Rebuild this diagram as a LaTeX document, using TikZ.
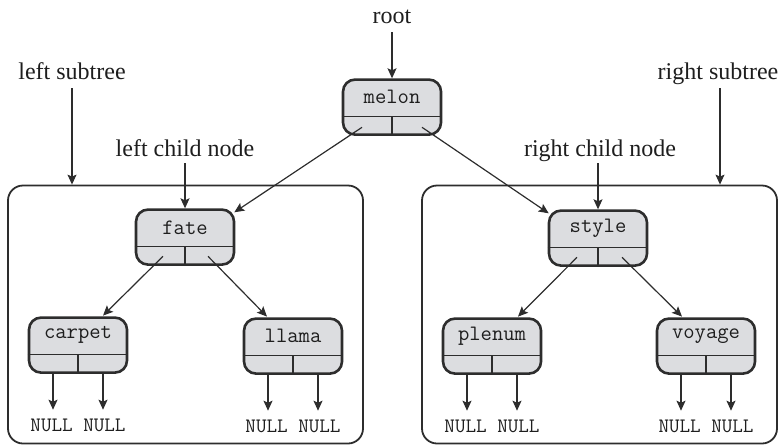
\documentclass[tikz,border=0pt]{standalone}
\usepackage{fontspec}
\setmainfont{Liberation Serif}
\usetikzlibrary{arrows.meta,calc}
\definecolor{boxgray}{RGB}{220,221,224}
\definecolor{edge}{RGB}{45,45,45}
\definecolor{ink}{RGB}{30,30,30}
\tikzset{
  tbox/.style={rectangle, rounded corners=12pt, minimum width=98pt, minimum height=55pt,
    fill=boxgray, draw=edge, line width=2.6pt, inner sep=0pt, anchor=north},
  divider/.style={draw=edge, line width=1.4pt},
  subbox/.style={rectangle, rounded corners=15pt, draw=edge, line width=1.8pt, inner sep=0pt},
  arr/.style={draw=edge, line width=1.2pt, -{Stealth[length=10pt,width=9pt,inset=2pt]}},
  monotext/.style={font=\fontsize{22}{24}\ttfamily, text=ink, inner sep=0pt},
  nulltext/.style={font=\fontsize{20.5}{22}\ttfamily, text=ink, inner sep=0pt, anchor=base, text height=10pt, text depth=0pt},
  lbl/.style={font=\fontsize{24}{28}\selectfont, text=ink, inner sep=0pt, anchor=base, text depth=0pt},
}
\newcommand{\treenode}[4]{%
  \node[tbox] (#1) at (#2,#3) {};
  \draw[divider] ([yshift=-38pt]#1.north west) -- ([yshift=-38pt]#1.north east);
  \draw[divider] ([yshift=-38pt]#1.north) -- (#1.south);
  \node[monotext] (#1-t) at ([yshift=-19pt]#1.north) {#4};
}
\newcommand{\nullpair}[1]{%
  \node[nulltext] (#1-null) at ($(#1.south)+(0,57.5)$) {NULL NULL};
  \draw[arr, shorten >=11.5pt] ([xshift=-25pt]#1.south) -- ([xshift=-25pt]#1.south |- #1-null.north);
  \draw[arr, shorten >=11.5pt] ([xshift=25pt]#1.south) -- ([xshift=25pt]#1.south |- #1-null.north);
}
\begin{document}
\begin{tikzpicture}[x=1pt,y=-1pt]
\useasboundingbox (0,0) rectangle (783,445);
% subtree boxes
\node[subbox, minimum width=355pt, minimum height=258pt] (lbox) at (185.5,314.5) {};
\node[subbox, minimum width=355pt, minimum height=258pt] (rbox) at (599.5,314.5) {};
% tree nodes
\treenode{melon}{392}{78.3}{melon}
\treenode{fate}{185}{208.3}{fate}
\treenode{style}{598}{209.3}{style}
\treenode{carpet}{78}{316.3}{carpet}
\treenode{llama}{293}{317.3}{llama}
\treenode{plenum}{492}{317.3}{plenum}
\treenode{voyage}{706}{317.3}{voyage}
% labels
\node[lbl] (root) at (392,23) {root};
\node[lbl] (lsub) at (72,79) {left subtree};
\node[lbl] (lcn) at (185,156) {left child node};
\node[lbl] (rsub) at (718,79) {right subtree};
\node[lbl] (rcn) at (600,156) {right child node};
\draw[arr] ([yshift=-9pt]root.south) -- (melon.north);
\draw[arr] ([yshift=-9pt]lsub.south) -- (lsub.south |- lbox.north);
\draw[arr] ([xshift=2pt,yshift=-9pt]rsub.south) -- ([xshift=2pt]rsub.south |- rbox.north);
\draw[arr] ([yshift=-7pt]lcn.south -| fate.north) -- (fate.north);
\draw[arr] ([yshift=-7pt]rcn.south -| style.north) -- (style.north);
% child connectors
\draw[arr] ([xshift=-30pt,yshift=-49pt]melon.north) -- ([xshift=-1pt,yshift=-4pt]fate.north east);
\draw[arr] ([xshift=30pt,yshift=-49pt]melon.north) -- ([xshift=1pt,yshift=-4pt]style.north west);
\draw[arr, shorten >=1pt] ([xshift=-22pt,yshift=-48pt]fate.north) -- ([xshift=-26pt]carpet.north east);
\draw[arr, shorten >=1pt] ([xshift=23pt,yshift=-48pt]fate.north) -- ([xshift=25pt]llama.north west);
\draw[arr, shorten >=1pt] ([xshift=-21pt,yshift=-48pt]style.north) -- ([xshift=-25pt]plenum.north east);
\draw[arr, shorten >=1pt] ([xshift=24pt,yshift=-48pt]style.north) -- ([xshift=27pt]voyage.north west);
% NULL leaves
\nullpair{carpet}
\nullpair{llama}
\nullpair{plenum}
\nullpair{voyage}
\end{tikzpicture}
\end{document}
